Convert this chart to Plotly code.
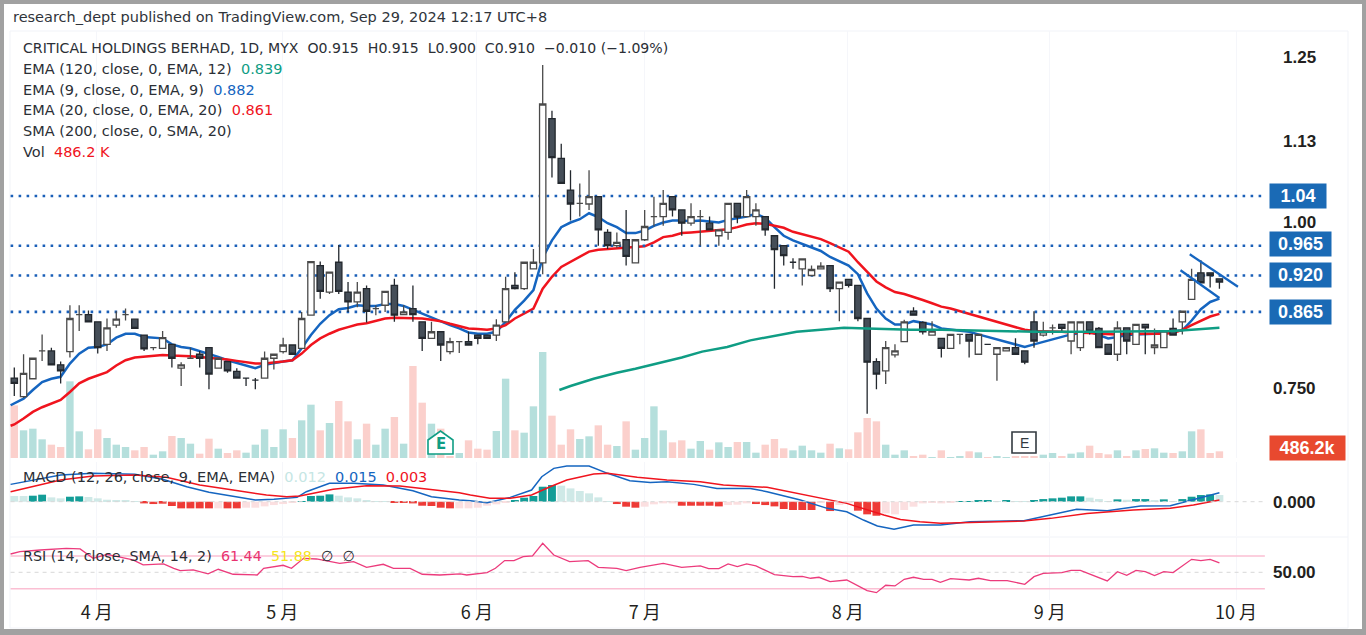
import plotly.graph_objects as go

bars = list(range(131))
opens = [.765,.737,.764,.806,.806,.785,.805,.861,.861,.850,
         .816,.845,.861,.854,.830,.811,.810,.816,.780,.795,
         .801,.811,.780,.790,.775,.765,.762,.765,.795,.805,
         .815,.810,.860,.935,.895,.940,.895,.880,.900,.870,
         .875,.905,.861,.870,.850,.825,.835,.805,.820,.820,
         .830,.830,.830,.850,.905,.900,.930,.939,1.157,1.097,
         1.049,1.029,1.028,1.039,.985,.965,.974,.939,.974,1.009,
         1.009,1.039,1.019,.999,1.009,.999,.980,.985,1.029,1.009,
         1.009,1.009,.980,.965,.940,.930,.920,.930,.935,.900,
         .914,.905,.855,.790,.776,.800,.820,.866,.849,.830,
         .825,.810,.831,.831,.801,.816,.801,.806,.811,.806,
         .850,.830,.841,.846,.821,.811,.850,.840,.816,.801,
         .841,.816,.846,.811,.811,.840,.850,.884,.924,.924,.915]
closes = [.757,.772,.795,.806,.785,.776,.855,.861,.850,.811,
          .841,.854,.861,.840,.809,.811,.826,.795,.785,.795,
          .795,.771,.795,.776,.765,.765,.762,.795,.801,.815,
          .801,.855,.941,.896,.925,.896,.880,.895,.866,.870,
          .896,.860,.865,.861,.825,.835,.815,.820,.820,.815,
          .825,.825,.845,.900,.900,.940,.940,1.179,1.098,1.059,
          1.028,1.029,1.039,.989,.965,.970,.949,.974,.994,1.009,
          1.029,1.019,.999,1.009,1.009,.989,.989,1.029,1.008,1.039,
          1.019,.989,.959,.950,.940,.945,.929,.934,.900,.910,
          .905,.855,.789,.771,.811,.806,.850,.860,.835,.836,
          .810,.831,.831,.821,.831,.816,.811,.811,.801,.789,
          .821,.835,.841,.840,.850,.850,.836,.811,.801,.841,
          .821,.846,.841,.815,.836,.830,.866,.914,.909,.920,.910]
highs = [.781,.801,.796,.831,.811,.790,.875,.875,.867,.850,
         .855,.866,.870,.854,.830,.811,.836,.816,.789,.811,
         .806,.811,.795,.790,.780,.765,.765,.805,.801,.826,
         .815,.865,.941,.941,.925,.966,.910,.910,.905,.875,
         .896,.915,.875,.905,.850,.850,.835,.826,.820,.835,
         .830,.830,.854,.918,.925,.940,.960,1.238,1.169,1.119,
         1.079,1.059,1.079,1.039,.990,.985,1.019,.974,1.019,1.039,
         1.049,1.039,1.019,1.029,1.019,1.009,.989,1.029,1.029,1.049,
         1.029,1.009,.980,.965,.946,.945,.935,.940,.935,.910,
         .914,.905,.855,.795,.821,.816,.853,.872,.851,.851,
         .825,.831,.831,.831,.831,.816,.811,.811,.825,.806,
         .866,.850,.846,.846,.850,.850,.850,.842,.816,.851,
         .841,.846,.846,.840,.836,.855,.866,.930,.943,.924,.915]
lows = [.738,.735,.764,.791,.784,.757,.796,.836,.850,.802,
        .806,.841,.852,.840,.806,.807,.810,.781,.753,.795,
        .781,.748,.780,.773,.765,.753,.748,.765,.778,.802,
        .801,.810,.860,.885,.892,.892,.865,.872,.849,.860,
        .865,.850,.861,.850,.806,.825,.791,.801,.803,.815,
        .816,.825,.821,.850,.899,.898,.930,.922,1.068,1.059,
        1.003,1.009,1.019,.965,.960,.962,.935,.939,.972,.994,
        .995,1.009,.980,.995,.965,.989,.965,.974,.999,1.009,
        .995,.980,.900,.935,.930,.905,.920,.930,.895,.851,
        .902,.851,.711,.748,.756,.796,.820,.860,.831,.830,
        .796,.810,.816,.796,.801,.816,.761,.806,.801,.786,
        .811,.828,.831,.835,.801,.806,.831,.811,.801,.791,
        .801,.816,.801,.801,.811,.830,.831,.884,.909,.902,.900]

line_bars = [-0.4] + bars
ema9 = [.724,
        .727,.734,.747,.759,.764,.767,.787,.802,.811,.812,
        .816,.826,.832,.832,.827,.826,.825,.816,.812,.810,
        .806,.801,.797,.792,.788,.784,.780,.785,.788,.790,
        .792,.810,.830,.847,.860,.869,.871,.875,.874,.874,
        .877,.877,.874,.868,.862,.856,.850,.845,.840,.834,
        .832,.832,.835,.850,.868,.882,.898,.947,.973,.993,
        1.000,1.005,1.014,1.008,.999,.993,.984,.984,.988,.995,
        1.000,1.003,1.003,1.002,1.003,1.001,1.000,1.004,1.006,1.009,
        1.013,1.007,.993,.980,.973,.968,.963,.957,.948,.941,
        .935,.922,.893,.870,.855,.846,.846,.851,.849,.846,
        .840,.838,.837,.835,.831,.827,.824,.820,.816,.812,
        .816,.820,.823,.827,.831,.833,.835,.830,.825,.827,
        .830,.831,.832,.832,.835,.836,.837,.852,.869,.880,.885]
ema20 = [.693,
         .695,.704,.714,.721,.727,.732,.744,.757,.764,.769,
         .774,.784,.792,.796,.797,.799,.800,.799,.799,.798,
         .797,.796,.795,.793,.791,.789,.787,.787,.788,.790,
         .792,.802,.815,.825,.832,.838,.842,.846,.848,.851,
         .855,.856,.856,.856,.855,.853,.851,.847,.843,.840,
         .839,.838,.840,.845,.855,.862,.870,.900,.918,.933,
         .941,.948,.956,.959,.960,.961,.961,.962,.964,.970,
         .978,.980,.984,.985,.986,.987,.989,.990,.993,.997,
         .999,.998,.995,.992,.986,.982,.979,.975,.969,.962,
         .956,.940,.925,.911,.902,.895,.892,.888,.883,.878,
         .873,.870,.866,.862,.858,.855,.851,.847,.843,.838,
         .836,.836,.835,.835,.834,.834,.833,.832,.831,.831,
         .832,.832,.832,.831,.832,.833,.838,.845,.852,.858,.862]
sma_bars = [58.8,60,62.5,65,67,70,72,74.2,76.9,79.4,81.6,84.4,87,89.5,92,94,96.7,100,103,107.1,110,117,125,127,130]
sma200 = [.747,.753,.764,.773,.779,.789,.796,.805,.812,.822,.828,.835,.838,.841,.840,.839,.838,.838,.837,.836,.835,.835,.836,.838,.841]

volume_k = [3839,2017,2138,1361,972,802,5589,1944,632,2090,
            1458,972,802,559,802,243,486,1604,1458,1045,
            316,1409,680,365,559,389,972,2090,802,2090,
            1458,2746,3888,2017,2552,4155,2673,1361,2503,972,
            2138,2989,1045,6707,4034,2503,2138,122,365,1288,
            680,608,1968,5783,2017,1847,3767,7727,3086,972,
            2090,1385,1580,2381,972,875,2673,608,1458,3767,
            2017,1142,1288,680,1239,608,1142,802,1166,1166,
            389,972,1385,705,559,899,559,389,1045,705,
            632,1871,2916,2673,972,243,559,122,243,73,
            559,73,122,486,413,49,146,73,146,146,
            146,243,365,122,316,413,899,365,267,559,
            146,559,656,705,389,365,486,1944,2090,365,486.2]
volume_side = ("ptttppttpp" "tttppttptt" "pptppttttt" "pttptpptpt" "tptpptpptp" "ppttptttpp"
               "pttpptpttt" "tppttpttpt" "tpppttttpt" "pppptttppt" "pttptpttpp" "pttpttpppt" "ptpttpttppp")

macd_hist = [.0095,.0095,.0100,.0117,.0072,.0056,.0083,.0089,.0078,.0056,
             .0033,.0028,.0028,.0011,-.0028,-.0039,-.0033,-.0072,-.0111,-.0111,
             -.0111,-.0111,-.0111,-.0111,-.0111,-.0100,-.0100,-.0078,-.0056,-.0039,
             -.0017,.0011,.0095,.0100,.0122,.0100,.0072,.0056,.0028,.0011,
             .0011,-.0017,-.0017,-.0028,-.0067,-.0072,-.0100,-.0111,-.0111,-.0111,
             -.0100,-.0067,-.0044,-.0011,.0028,.0067,.0095,.0250,.0278,.0267,
             .0222,.0178,.0139,.0072,.0011,-.0039,-.0083,-.0100,-.0083,-.0044,
             -.0028,-.0028,-.0067,-.0067,-.0067,-.0067,-.0078,-.0056,-.0050,-.0028,
             -.0039,-.0056,-.0078,-.0122,-.0139,-.0139,-.0139,-.0017,-.0156,-.0056,
             -.0028,-.0150,-.0211,-.0234,-.0195,-.0211,-.0139,-.0083,-.0028,-.0022,
             -.0028,-.0011,.0011,.0011,.0017,.0017,.0006,.0022,.0006,.0006,
             .0022,.0044,.0056,.0067,.0089,.0089,.0067,.0044,.0011,.0039,
             .0033,.0044,.0044,.0028,.0039,.0011,.0044,.0083,.0111,.0122,.0111]
macd_shade = ("llddllddll" "lllldddddd" "ddlddlllll" "lddddlllll" "ldddddddll" "lllldddddl"
              "llllldddll" "lldddddlll" "dddddddldl" "ldddllllll" "llddddldll" "ddddddllld" "lddldlddddl")

macd_bars = [-0.4,2,5,8.5,13,16,18.6,21,23.6,26,28,30.5,31.5,34,36.6,39.8,43,45,48,49.2,51,53.5,55.8,56.9,58.2,59.6,62,64,
             66.4,68.6,70.4,73.3,75.8,79.4,81.2,84.8,87.7,89.8,91.6,93.1,94.9,97,99.9,103.1,108.9,111,114.6,117.9,121.5,124.7,127.2,130]
macd_line = [.0289,.0361,.0445,.0473,.0456,.0373,.025,.0156,.0095,.0028,.0039,.0072,.0167,.0306,.0306,.0278,.0183,.0083,.0028,.0017,-.0017,.0072,.0195,.0417,.0556,.0595,.0595,.0473,
             .035,.0322,.0334,.0289,.0222,.0222,.0167,.0028,-.0111,-.0167,-.0306,-.0406,-.0461,-.0389,-.0389,-.0334,-.0317,-.025,-.0128,-.015,-.0072,-.0067,.0039,.015]
signal_bars = [-0.4,2,5,8.5,13,16.4,20,23.6,27.2,29.4,30.8,34.4,38,41.6,45.2,48,49.2,51.3,53.5,55.8,57.8,59.6,62.5,64,67.2,70.4,74,76.5,81.2,84.8,89.8,93.8,95.6,97.7,99.9,103.1,108.9,111.8,115.7,120.7,124.7,127.2,130]
signal_line = [.0167,.025,.0361,.0428,.0445,.0406,.0278,.0195,.0111,.0083,.0095,.0206,.0267,.0261,.0195,.015,.0111,.0056,.0056,.0111,.025,.0361,.0461,.0473,.0406,.0361,.0334,.0278,.0239,.0122,-.0028,-.0222,-.0295,-.0334,-.0361,-.0345,-.0322,-.0278,-.0195,-.0139,-.0111,-.0056,.003]

rsi_bars = [-0.4,.6,2.8,5.6,7.1,8.5,10,12.8,13.9,16.1,17.2,17.9,19.3,20.9,22,23.6,26.2,26.9,29,29.9,31.2,32.6,35.1,36.6,38,39.8,40.9,42.7,44,45.9,48.1,
            48.8,51,51.9,52.9,53.9,54.9,55.9,57,58.2,59.9,61.9,63,65,66,67.5,70,72,74,74.9,76,77,78,79,80,82,84,85,85.9,86.8,88,89.8,92,93,94,95,96,
            97,98.1,99,99.9,101,103,104,105.3,107.1,109,110,111,113,114,115,117.9,119,120,121,122,123,124,125,127,128,129,130]
rsi_line = [72.4,75.3,77.3,79.4,78.6,67.1,72,65.1,59,60.2,54.9,52,52.9,48,53.7,47.6,46.7,54.9,58.6,54.9,67.1,66.3,61,63.1,56.1,59.8,54.9,54.9,47.6,46.7,48,
            46.7,49.6,54.9,64.3,64.3,69.2,70,85.5,71.2,63.1,64.3,56.1,54.9,52,56.1,61,56.1,57.8,54.5,54.5,60.2,56.9,60.2,57.8,47.1,44.7,45.1,42.7,43.9,38.6,40.6,27.6,25.1,34.1,33.3,41.4,
            43.9,41.4,41.4,37.8,42.2,40.6,42.7,39.8,39.8,35.3,44.7,48.8,49.6,52.4,52.4,39.4,50.8,46.3,52.4,50.8,45.9,50.8,49.6,65.9,64.3,65.9,61.44]
rsi_bands = [70, 50, 30]

level_prices = [1.04, 0.965, 0.920, 0.865]
level_labels = ["1.04", "0.965", "0.920", "0.865"]
price_ticks = [1.25, 1.123, 1.00, 0.75]
price_tick_labels = ["1.25", "1.13", "1.00", "0.750"]
pennant_top_bars, pennant_top = [126.8, 132.0], [.952, .903]
pennant_low_bars, pennant_low = [125.8, 130.0], [.928, .886]

month_bars = [8.9, 28.9, 49.9, 68, 89.9, 111.7, 131.8]
month_labels = ["4 月", "5 月", "6 月", "7 月", "8 月", "9 月", "10 月"]

W, H = 1366, 635
BLUE, RED, GREEN = "#1565c0", "#f0141e", "#0f9d84"
LABEL_FONT = "DejaVu Sans"
TAG_FONT = "Liberation Sans"


def px_x(v):
    return v / W


def px_y(v):
    return 1 - v / H


fig = go.Figure()

fig.add_trace(go.Bar(x=bars, y=volume_k, yaxis="y", width=0.8,
                     marker=dict(color=["#b5dfdc" if s == "t" else "#fbd0cc" for s in volume_side], line_width=0)))
fig.add_trace(go.Scatter(x=line_bars, y=ema9, yaxis="y2", mode="lines", line=dict(color=BLUE, width=2.5)))
fig.add_trace(go.Scatter(x=line_bars, y=ema20, yaxis="y2", mode="lines", line=dict(color=RED, width=2.5)))
for lvl in level_prices:
    fig.add_trace(go.Scatter(x=[-0.4, 134.9], y=[lvl, lvl], yaxis="y2", mode="lines",
                             line=dict(color="#1a5fb8", width=2.6, dash="2.6px,5.4px")))
fig.add_trace(go.Candlestick(x=bars, open=opens, high=highs, low=lows, close=closes, yaxis="y3",
                             whiskerwidth=0,
                             increasing=dict(line=dict(color="#4a4a4a", width=1.3), fillcolor="#ffffff"),
                             decreasing=dict(line=dict(color="#23282e", width=1.3), fillcolor="#454e58")))
fig.add_trace(go.Scatter(x=sma_bars, y=sma200, yaxis="y3", mode="lines", line=dict(color=GREEN, width=2.5)))
fig.add_trace(go.Scatter(x=pennant_top_bars, y=pennant_top, yaxis="y3", mode="lines", line=dict(color=BLUE, width=2.3)))
fig.add_trace(go.Scatter(x=pennant_low_bars, y=pennant_low, yaxis="y3", mode="lines", line=dict(color=BLUE, width=2.3)))

hist_colors = []
for v, s in zip(macd_hist, macd_shade):
    if v >= 0:
        hist_colors.append("#139d97" if s == "d" else "#cfe9e7")
    else:
        hist_colors.append("#ee3a36" if s == "d" else "#fbdfe0")
fig.add_trace(go.Bar(x=bars, y=macd_hist, yaxis="y4", width=0.85, marker=dict(color=hist_colors, line_width=0)))
fig.add_trace(go.Scatter(x=macd_bars, y=macd_line, yaxis="y4", mode="lines", line=dict(color=BLUE, width=1.5)))
fig.add_trace(go.Scatter(x=signal_bars, y=signal_line, yaxis="y4", mode="lines", line=dict(color=RED, width=1.5)))
fig.add_trace(go.Scatter(x=[-0.4, 134.9], y=[0, 0], yaxis="y4", mode="lines",
                         line=dict(color="#d8d8d8", width=1, dash="4px,4px")))

for band in rsi_bands:
    fig.add_trace(go.Scatter(x=[-0.4, 134.9], y=[band, band], yaxis="y5", mode="lines",
                             line=dict(color="#d8d8d8", width=1, dash="4px,4px") if band == 50
                             else dict(color="#fbbfd3", width=1.5)))
fig.add_trace(go.Scatter(x=rsi_bars, y=rsi_line, yaxis="y5", mode="lines", line=dict(color="#ec3b7c", width=1.3)))

annos = []


def add_text(x, y, text, size=14.5, color="#2b2f36", font=LABEL_FONT, **kw):
    annos.append(dict(xref="paper", yref="paper", x=px_x(x), y=px_y(y), text=text, showarrow=False,
                      xanchor=kw.pop("xanchor", "left"), yanchor="middle", font=dict(family=font, size=size, color=color), **kw))


add_text(11, 17, "research_dept published on TradingView.com, Sep 29, 2024 12:17 UTC+8", size=14.5, color="#30343a")
add_text(21, 48, "CRITICAL HOLDINGS BERHAD, 1D, MYX\u00a0\u00a0O0.915\u00a0\u00a0H0.915\u00a0\u00a0L0.900\u00a0\u00a0C0.910\u00a0\u00a0\u22120.010\u00a0(\u22121.09%)", size=14.1)
add_text(21, 69, f'EMA (120, close, 0, EMA, 12)\u00a0\u00a0<span style="color:{GREEN}">0.839</span>')
add_text(21, 90, f'EMA (9, close, 0, EMA, 9)\u00a0\u00a0<span style="color:{BLUE}">0.882</span>')
add_text(21, 110, f'EMA (20, close, 0, EMA, 20)\u00a0\u00a0<span style="color:{RED}">0.861</span>')
add_text(21, 131, "SMA (200, close, 0, SMA, 20)")
add_text(21, 152, f'Vol\u00a0\u00a0<span style="color:{RED}">486.2\u00a0K</span>')
add_text(21, 477, f'MACD (12, 26, close, 9, EMA, EMA)\u00a0\u00a0<span style="color:#c5e6e4">0.012</span>\u00a0\u00a0'
                  f'<span style="color:{BLUE}">0.015</span>\u00a0\u00a0<span style="color:{RED}">0.003</span>')
add_text(21, 556, 'RSI (14, close, SMA, 14, 2)\u00a0\u00a0<span style="color:#e8336f">61.44</span>\u00a0\u00a0'
                  '<span style="color:#f6e51c">51.88</span>\u00a0\u00a0\u2205\u00a0\u00a0\u2205', size=14.3)

for tick, label in zip(price_ticks, price_tick_labels):
    annos.append(dict(xref="paper", yref="y3", x=px_x(1318), y=tick, text=label, showarrow=False, xanchor="right",
                      yanchor="middle", font=dict(family=TAG_FONT, size=17, color="#231f20", weight="bold")))
annos.append(dict(xref="paper", yref="y4", x=px_x(1318), y=0, text="0.000", showarrow=False, xanchor="right", yshift=-1,
                  yanchor="middle", font=dict(family=TAG_FONT, size=17, color="#231f20", weight="bold")))
annos.append(dict(xref="paper", yref="y5", x=px_x(1318), y=50, text="50.00", showarrow=False, xanchor="right",
                  yanchor="middle", font=dict(family=TAG_FONT, size=17, color="#231f20", weight="bold")))

for lvl, label in zip(level_prices, level_labels):
    annos.append(dict(xref="paper", yref="y3", x=px_x(1269), y=lvl, text=label, showarrow=False, xanchor="left",
                      yanchor="middle", width=54 if label == "1.04" else 59, height=22, align="center", bgcolor="#1a6ab5",
                      yshift=2 if label == "0.965" else 0,
                      font=dict(family=TAG_FONT, size=18, color="white", weight="bold")))
annos.append(dict(xref="paper", yref="paper", x=px_x(1269), y=px_y(448), text="<b>486.2k</b>", showarrow=False, xanchor="left",
                  yanchor="middle", width=73, height=22, align="center", bgcolor="#e8492f",
                  font=dict(family=TAG_FONT, size=18, color="white")))

add_text(440.5, 444, "<b>E</b>", size=15, color="#0f9d84", xanchor="center")
add_text(1024, 443, "E", size=14, color="#333a40", xanchor="center", font=TAG_FONT)

shapes = [
    dict(type="rect", xref="paper", yref="paper", x0=px_x(4), x1=px_x(1362), y0=px_y(629), y1=px_y(4),
         fillcolor="white", line_width=0, layer="below"),
    dict(type="rect", xref="paper", yref="paper", x0=px_x(10), x1=px_x(1348), y0=px_y(628), y1=px_y(31),
         fillcolor="rgba(0,0,0,0)", line=dict(color="#f1f3f8", width=1), layer="below"),
    dict(type="line", xref="paper", yref="paper", x0=px_x(10), x1=px_x(1348), y0=px_y(537), y1=px_y(537),
         line=dict(color="#f1f3f8", width=1), layer="below"),
    dict(type="path", xref="paper", yref="paper", layer="above", fillcolor="white", line=dict(color="#0f9d84", width=1.6),
         path=f"M {px_x(428)} {px_y(440)} L {px_x(440.5)} {px_y(431)} L {px_x(453)} {px_y(440)} L {px_x(453)} {px_y(454)} L {px_x(428)} {px_y(454)} Z"),
    dict(type="rect", xref="paper", yref="paper", x0=px_x(1012), x1=px_x(1036), y0=px_y(453), y1=px_y(432),
         fillcolor="white", line=dict(color="#333a40", width=1.6), layer="above"),
]

X_DOMAIN = [px_x(10), px_x(1348)]
yhidden = dict(showticklabels=False, showgrid=False, zeroline=False, ticks="", fixedrange=True, anchor="free", position=X_DOMAIN[1])
fig.update_layout(
    width=W, height=H, margin=dict(l=0, r=0, t=0, b=0), showlegend=False, barmode="overlay", hovermode=False,
    boxgap=0.175, boxgroupgap=0.175,
    paper_bgcolor="#a1a1a1", plot_bgcolor="rgba(0,0,0,0)", annotations=annos, shapes=shapes,
    xaxis=dict(domain=X_DOMAIN, range=[-0.464, 143.87], rangeslider=dict(visible=False), anchor="y5",
               tickmode="array", tickvals=month_bars, ticktext=month_labels, ticks="", showline=False, zeroline=False,
               showgrid=True, gridcolor="#f5f6fa", tickfont=dict(family="Noto Sans CJK JP", size=18, color="#231f20")),
    yaxis=dict(domain=[px_y(458), px_y(31)], range=[0, 31130], **yhidden),
    yaxis2=dict(domain=[px_y(458), px_y(31)], range=[0.6443, 1.2893], overlaying="y", **yhidden),
    yaxis3=dict(domain=[px_y(458), px_y(31)], range=[0.6443, 1.2893], overlaying="y", **yhidden),
    yaxis4=dict(domain=[px_y(536), px_y(462)], range=[-0.0572, 0.0662], **yhidden),
    yaxis5=dict(domain=[px_y(600), px_y(537)], range=[16.1, 93.2], **yhidden),
)

fig.write_html("out.html", config=dict(displayModeBar=False),
               post_script="document.body.style.margin='0';document.body.style.overflow='hidden';")
